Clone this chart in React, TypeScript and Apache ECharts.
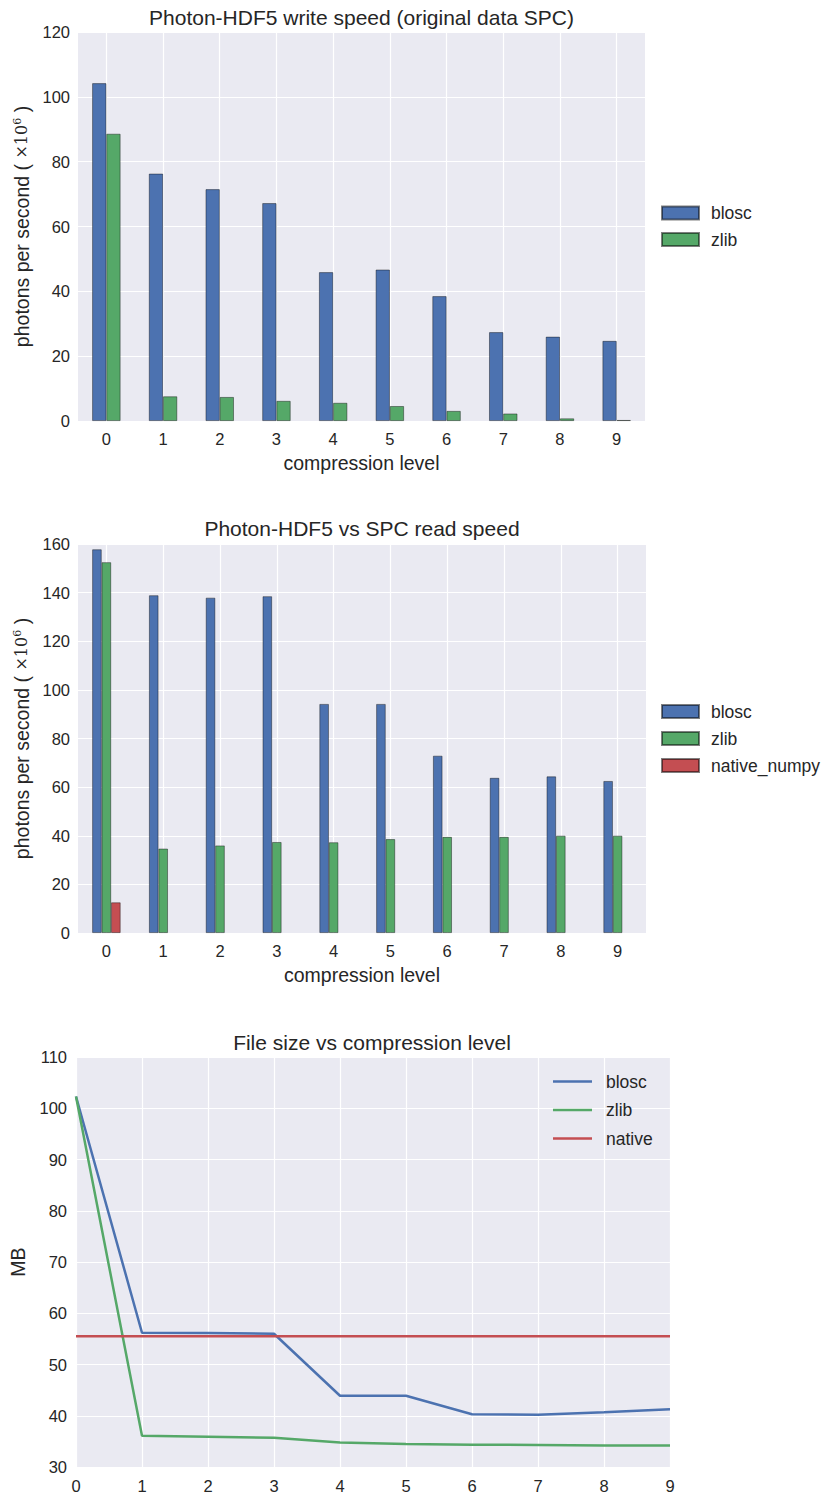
import React, { useEffect, useRef } from "react";
import * as echarts from "echarts";

const levels = ["0", "1", "2", "3", "4", "5", "6", "7", "8", "9"];

const writeBlosc = [104.2, 76.3, 71.5, 67.2, 45.9, 46.7, 38.5, 27.4, 26.0, 24.7];
const writeZlib = [88.6, 7.6, 7.4, 6.2, 5.6, 4.6, 3.1, 2.3, 0.8, 0.3];

const readBlosc = [157.8, 138.9, 137.9, 138.5, 94.2, 94.2, 72.9, 63.8, 64.4, 62.5];
const readZlib = [152.5, 34.7, 36.0, 37.4, 37.3, 38.6, 39.5, 39.5, 40.0, 40.0];
const readNative = [12.6, null, null, null, null, null, null, null, null, null];

const sizeBlosc = [102.3, 56.2, 56.15, 56.0, 43.9, 43.9, 40.3, 40.2, 40.7, 41.25];
const sizeZlib = [102.3, 36.1, 35.9, 35.7, 34.8, 34.5, 34.36, 34.3, 34.2, 34.2];
const sizeNative = [55.5, 55.5, 55.5, 55.5, 55.5, 55.5, 55.5, 55.5, 55.5, 55.5];

const FONT = "'Liberation Sans', Arial, sans-serif";
const TXT = "#262626";
const BG = "#EAEAF2";
const BLUE = "#4C72B0";
const GREEN = "#55A868";
const RED = "#C44E52";

const nameStyle = {
  fontSize: 19.5,
  color: TXT,
  fontFamily: FONT,
  rich: {
    m: { fontFamily: "'DejaVu Serif', serif", fontSize: 16, color: TXT },
    s: { fontFamily: "'DejaVu Serif', serif", fontSize: 11, color: TXT, verticalAlign: "top" },
  },
};

function barOption(opts: {
  title: string;
  titleTop: number;
  gridTop: number;
  gridWidth: number;
  yMax: number;
  series: { name: string; data: (number | null)[]; color: string }[];
  barWidth: string;
  legendTop: number;
  legendGap: number;
}) {
  const left = 78;
  return {
    animation: false,
    textStyle: { fontFamily: FONT },
    title: {
      text: opts.title,
      left: left + opts.gridWidth / 2,
      top: opts.titleTop,
      textAlign: "center",
      padding: 0,
      textStyle: { fontSize: 21, fontWeight: "normal", color: TXT, fontFamily: FONT },
    },
    grid: {
      left,
      top: opts.gridTop,
      width: opts.gridWidth,
      height: 389,
      show: true,
      backgroundColor: BG,
      borderWidth: 0,
    },
    legend: {
      orient: "vertical",
      left: 661,
      top: opts.legendTop,
      padding: 0,
      icon: "rect",
      itemWidth: 37,
      itemHeight: 13,
      itemGap: opts.legendGap,
      textStyle: { fontSize: 17.5, color: TXT, fontFamily: FONT, padding: [0, 0, 0, 7] },
      data: opts.series.map((s) => s.name),
    },
    xAxis: {
      type: "category",
      data: levels,
      axisLine: { show: false },
      axisTick: { show: false },
      axisLabel: { fontSize: 16.5, color: TXT, margin: 9 },
      splitLine: { show: true, alignWithLabel: true, lineStyle: { color: "#ffffff", width: 1.2 } },
      name: "compression level",
      nameLocation: "middle",
      nameGap: 32,
      nameTextStyle: { fontSize: 19.5, color: TXT, fontFamily: FONT },
    },
    yAxis: {
      type: "value",
      min: 0,
      max: opts.yMax,
      interval: 20,
      axisLine: { show: false },
      axisTick: { show: false },
      axisLabel: { fontSize: 16.5, color: TXT, margin: 8 },
      splitLine: { show: true, lineStyle: { color: "#ffffff", width: 1.2 } },
      name: "photons per second ( {m|×10}{s|6} )",
      nameLocation: "middle",
      nameGap: 44,
      nameTextStyle: nameStyle,
    },
    series: opts.series.map((s) => ({
      type: "bar",
      name: s.name,
      data: s.data,
      barWidth: opts.barWidth,
      barGap: "0%",
      itemStyle: { color: s.color, borderColor: "rgba(0,0,0,0.5)", borderWidth: 0.8 },
    })),
  };
}

const option1 = barOption({
  title: "Photon-HDF5 write speed (original data SPC)",
  titleTop: 7,
  gridTop: 32,
  gridWidth: 567,
  yMax: 120,
  series: [
    { name: "blosc", data: writeBlosc, color: BLUE },
    { name: "zlib", data: writeZlib, color: GREEN },
  ],
  barWidth: "25%",
  legendTop: 204,
  legendGap: 8.5,
});

const option2 = barOption({
  title: "Photon-HDF5 vs SPC read speed",
  titleTop: 23,
  gridTop: 49,
  gridWidth: 568,
  yMax: 160,
  series: [
    { name: "blosc", data: readBlosc, color: BLUE },
    { name: "zlib", data: readZlib, color: GREEN },
    { name: "native_numpy", data: readNative, color: RED },
  ],
  barWidth: "16.67%",
  legendTop: 207.5,
  legendGap: 9,
});

const option3 = {
  animation: false,
  textStyle: { fontFamily: FONT },
  title: {
    text: "File size vs compression level",
    left: 74 + 596 / 2,
    top: 27,
    textAlign: "center",
    padding: 0,
    textStyle: { fontSize: 21, fontWeight: "normal", color: TXT, fontFamily: FONT },
  },
  grid: {
    left: 74,
    top: 52,
    width: 596,
    height: 410,
    show: true,
    backgroundColor: BG,
    borderWidth: 0,
  },
  legend: {
    orient: "vertical",
    left: 553,
    top: 67.5,
    padding: 0,
    icon: "rect",
    itemWidth: 39,
    itemHeight: 2.5,
    itemGap: 10.5,
    textStyle: { fontSize: 17.5, color: TXT, fontFamily: FONT, padding: [0, 0, 0, 9] },
    data: ["blosc", "zlib", "native"],
  },
  xAxis: {
    type: "category",
    data: levels,
    boundaryGap: false,
    axisLine: { show: false },
    axisTick: { show: false },
    axisLabel: { fontSize: 16.5, color: TXT, margin: 10 },
    splitLine: { show: true, lineStyle: { color: "#ffffff", width: 1.2 } },
  },
  yAxis: {
    type: "value",
    min: 30,
    max: 110,
    interval: 10,
    axisLine: { show: false },
    axisTick: { show: false },
    axisLabel: { fontSize: 16.5, color: TXT, margin: 9 },
    splitLine: { show: true, lineStyle: { color: "#ffffff", width: 1.2 } },
    name: "MB",
    nameLocation: "middle",
    nameGap: 48,
    nameTextStyle: { fontSize: 19.5, color: TXT, fontFamily: FONT },
  },
  series: [
    { name: "blosc", data: sizeBlosc, color: BLUE },
    { name: "zlib", data: sizeZlib, color: GREEN },
    { name: "native", data: sizeNative, color: RED },
  ].map((s) => ({
    type: "line",
    name: s.name,
    data: s.data,
    symbol: "none",
    lineStyle: { color: s.color, width: 2.5 },
    itemStyle: { color: s.color },
  })),
};

function Chart({ option, top, height }: { option: any; top: number; height: number }) {
  const ref = useRef<HTMLDivElement>(null);
  useEffect(() => {
    if (!ref.current) return;
    const chart = echarts.init(ref.current, undefined, { renderer: "svg" });
    chart.setOption(option);
    return () => chart.dispose();
  }, [option]);
  return (
    <div
      ref={ref}
      style={{ position: "absolute", left: 0, top, width: 822, height }}
    />
  );
}

export default function App() {
  return (
    <div
      style={{
        position: "absolute",
        left: 0,
        top: 0,
        width: 822,
        height: 1494,
        background: "#ffffff",
        overflow: "hidden",
      }}
    >
      <Chart option={option1} top={0} height={495} />
      <Chart option={option2} top={495} height={510} />
      <Chart option={option3} top={1005} height={489} />
    </div>
  );
}
